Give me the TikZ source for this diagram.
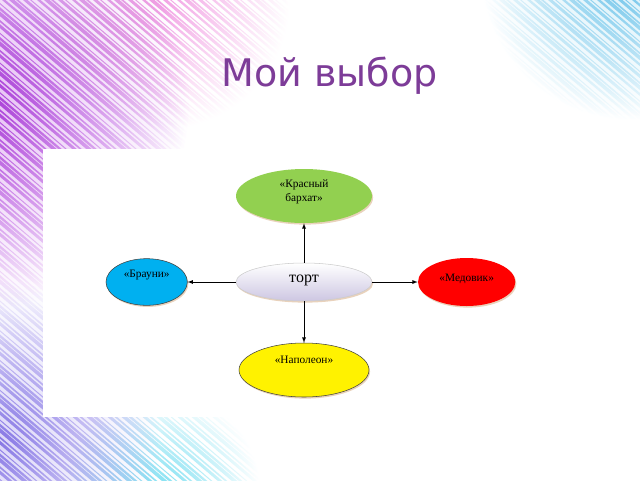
\documentclass[tikz,border=0pt]{standalone}
\usepackage{fontspec}
\setmainfont{Liberation Serif}
\newfontfamily\titlefont{DejaVu Sans}
\usetikzlibrary{positioning,shapes.geometric,shadows}

\definecolor{purp}{HTML}{B84BE0}
\definecolor{pinkish}{HTML}{F2A2E4}
\definecolor{vio}{HTML}{8C7BE8}
\definecolor{cyanb}{HTML}{7FE0F2}
\definecolor{sky}{HTML}{62C3EA}
\definecolor{titlecol}{HTML}{7D3C98}
\definecolor{lav}{HTML}{CDC6E2}

\begin{document}
\begin{tikzpicture}[x=0.75pt, y=-0.75pt,
  cake/.style={ellipse, draw=black!75, thin, inner sep=0pt, align=center,
    font=\fontsize{8.5}{10.5}\selectfont,
    drop shadow={shadow xshift=0.8pt, shadow yshift=-1.2pt, fill=brown!35, opacity=1}},
  lift/.style={text depth=#1}]
\useasboundingbox (0,0) rectangle (640,480);
\fill[white] (0,0) rectangle (640,480);

% striped background
\begin{scope}
  \clip (0,0) rectangle (640,480);
  \shade[blend mode=multiply, inner color=purp!35, outer color=white] (-20,100) circle (210);
  \shade[blend mode=multiply, inner color=vio!30, outer color=white] (0,440) circle (160);
  \shade[blend mode=multiply, inner color=sky!25, outer color=white] (630,-30) circle (150);
  \clip \foreach \c in {-600,-593,...,660}
    {(\c,0) -- ++({1.5+mod(abs(\c),5)},0) -- ++(700,595) -- ++({-1.5-mod(abs(\c),5)},0) -- cycle};
  \shade[blend mode=multiply, inner color=pinkish, outer color=white] (160,0) circle (130);
  \shade[blend mode=multiply, inner color=purp, outer color=white] (-20,100) circle (210);
  \shade[blend mode=multiply, inner color=vio!85, outer color=white] (0,440) circle (160);
  \shade[blend mode=multiply, inner color=cyanb, outer color=white] (160,490) circle (100);
  \shade[blend mode=multiply, inner color=sky!85, outer color=white] (630,-30) circle (150);
\end{scope}

\node[font=\titlefont\fontsize{28.5}{30}\selectfont, text=titlecol, anchor=base] (title) at (329.5,86) {Мой выбор};

\fill[white] (43,149) rectangle (600,417);

\node[cake, draw=black!20, top color=white, bottom color=lav, minimum width=102pt, minimum height=28.5pt,
  font=\fontsize{12}{14}\selectfont, lift=5.6pt] (tort) at (304,282) {торт};
\node[cake, draw=none, fill={rgb,255:red,146;green,208;blue,80}, minimum width=102pt, minimum height=40.5pt,
  lift=8pt, node distance=64.5pt, above of=tort] (barhat) {«Красный\\бархат»};
\node[cake, fill={rgb,255:red,0;green,176;blue,240}, minimum width=61pt, minimum height=35pt,
  lift=12.5pt, node distance=118pt, left of=tort] (brauni) {«Брауни»};
\node[cake, draw=none, fill=red, minimum width=73pt, minimum height=36pt,
  lift=5.8pt, node distance=122pt, right of=tort] (medovik) {«Медовик»};
\node[cake, fill=yellow, minimum width=97.5pt, minimum height=40.5pt,
  lift=15pt, node distance=66pt, below of=tort] (napoleon) {«Наполеон»};

\draw[-latex] (tort) -- (barhat);
\draw[-latex] (tort) -- (brauni);
\draw[-latex] (tort) -- (medovik);
\draw[-latex] (tort) -- (napoleon);
\end{tikzpicture}
\end{document}
